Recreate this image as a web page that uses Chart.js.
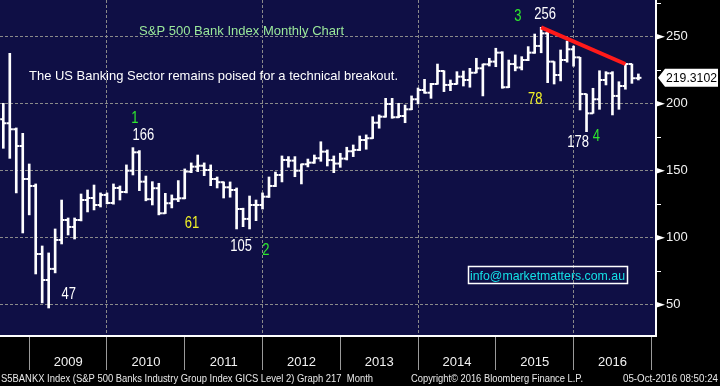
<!DOCTYPE html>
<html>
<head>
<meta charset="utf-8">
<script src="https://cdn.jsdelivr.net/npm/chart.js@4.4.1/dist/chart.umd.min.js"></script>
<style>
  html, body { margin: 0; padding: 0; background: #000; }
</style>
</head>
<body>
<canvas id="chart" width="720" height="386"></canvas>
<script>
// monthly bars, Aug 2008 .. Oct 2016 (index 0 .. 98)
const opens = [
  188.4, 185.4, 180.9, 168.4, 143.8, 138.6, 87.8, 68.4, 76.7, 98.3,
  113.2, 108.0, 113.2, 128.1, 129.6, 124.4, 131.9, 125.9, 137.1, 134.1,
  150.0, 163.7, 141.8, 128.7, 136.9, 118.2, 125.7, 128.7, 129.4, 149.3,
  153.0, 153.7, 150.5, 143.8, 141.4, 137.6, 135.6, 121.4, 114.0, 124.4,
  124.4, 130.6, 138.6, 146.8, 158.0, 157.5, 150.0, 154.8, 156.0, 159.3,
  164.2, 157.9, 155.3, 159.0, 164.5, 165.5, 172.9, 174.2, 185.8, 190.3,
  199.8, 189.9, 190.8, 195.8, 203.3, 210.2, 208.2, 214.7, 224.4, 214.0,
  214.7, 220.2, 217.7, 223.1, 226.4, 229.4, 231.4, 238.1, 212.3, 229.6,
  227.0, 232.6, 238.1, 243.1, 252.5, 231.4, 221.4, 232.6, 240.6, 234.6,
  207.2, 192.8, 203.3, 217.7, 222.7, 205.8, 213.2, 229.6, 219.0
];
const highs = [
  200.3, 237.6, 181.9, 177.9, 155.0, 140.1, 93.8, 88.6, 106.5, 128.1,
  114.7, 114.7, 132.6, 135.6, 139.3, 133.4, 133.4, 140.1, 138.6, 154.3,
  167.2, 165.0, 146.0, 141.8, 140.6, 133.1, 131.9, 142.6, 151.3, 155.8,
  161.7, 155.8, 154.3, 145.3, 141.6, 141.6, 137.1, 122.0, 131.1, 128.1,
  133.4, 145.3, 149.0, 161.0, 160.5, 160.5, 155.0, 158.7, 161.7, 171.6,
  165.5, 161.0, 163.0, 167.5, 169.2, 175.9, 176.7, 190.3, 191.6, 204.0,
  204.0, 200.3, 199.0, 205.8, 211.7, 218.2, 215.2, 229.6, 224.6, 217.7,
  223.9, 224.4, 226.4, 233.9, 229.6, 233.9, 241.4, 238.8, 232.6, 236.4,
  235.1, 242.6, 252.0, 257.0, 254.0, 231.4, 240.1, 246.8, 243.0, 234.6,
  207.2, 211.5, 224.6, 223.9, 223.9, 216.4, 229.6, 229.6, 222.2
];
const lows = [
  166.7, 159.2, 133.4, 103.5, 117.0, 72.9, 51.3, 47.5, 73.7, 95.3,
  102.0, 99.0, 112.5, 119.2, 120.7, 122.9, 125.2, 125.0, 128.1, 133.4,
  146.8, 135.1, 127.5, 124.4, 117.0, 118.0, 122.2, 126.9, 129.0, 148.5,
  149.3, 146.3, 138.8, 137.1, 129.6, 130.2, 106.5, 108.2, 106.5, 112.7,
  121.4, 130.0, 138.1, 141.6, 152.6, 145.5, 140.1, 152.8, 155.5, 157.0,
  153.5, 148.5, 152.5, 158.0, 160.5, 165.0, 166.0, 174.0, 181.7, 189.9,
  189.1, 189.5, 185.8, 195.5, 199.8, 207.8, 204.0, 214.5, 209.0, 209.7,
  214.5, 213.2, 212.3, 223.0, 205.8, 228.1, 227.6, 211.5, 212.0, 224.5,
  225.2, 232.1, 237.6, 238.0, 215.7, 214.7, 217.0, 231.0, 228.0, 195.3,
  179.1, 192.8, 195.8, 214.0, 191.6, 195.8, 210.8, 215.2, 217.7
];
const closes = [
  185.4, 180.9, 168.4, 143.8, 138.6, 87.8, 68.4, 76.7, 98.3, 113.2,
  108.0, 113.2, 128.1, 129.6, 124.4, 131.9, 125.9, 137.1, 134.1, 150.0,
  163.7, 141.8, 128.7, 136.9, 118.2, 125.7, 128.7, 129.4, 149.3, 153.0,
  153.7, 150.5, 143.8, 141.4, 137.6, 135.6, 121.4, 114.0, 124.4, 124.4,
  130.6, 138.6, 146.8, 158.0, 157.5, 150.0, 154.8, 156.0, 159.3, 164.2,
  157.9, 155.3, 159.0, 164.5, 165.5, 172.9, 174.2, 185.8, 190.3, 199.8,
  189.9, 190.8, 195.8, 203.3, 210.2, 208.2, 214.7, 224.4, 214.0, 214.7,
  220.2, 217.7, 223.1, 226.4, 229.4, 231.4, 238.1, 212.3, 229.6, 227.0,
  232.6, 238.1, 243.1, 252.5, 231.4, 221.4, 232.6, 240.6, 234.6, 207.2,
  192.8, 203.3, 217.7, 222.7, 205.8, 213.2, 229.6, 219.0, 219.3102
];

// year boundaries (bar index of each December) and the labels between them
const yearTicks = [4, 16, 28, 40, 52, 64, 76, 88, 100];
const years = ['2009', '2010', '2011', '2012', '2013', '2014', '2015', '2016', ''];
const priceTicks = [50, 75, 100, 125, 150, 175, 200, 225, 250, 275];

// resistance line from the 2015 high
const trendX = [83, 96];
const trendY = [257, 229.6];

// chart notes: text, bar index, price
const notes = [
  ['3', 79.4, 264.7, 'green'],
  ['256', 83.6, 266.2, 'white'],
  ['78', 82.1, 202.8, 'yellow'],
  ['178', 88.7, 170.7, 'white'],
  ['4', 91.5, 175.2, 'green'],
  ['1', 20.3, 188.6, 'green'],
  ['166', 21.6, 175.9, 'white'],
  ['61', 29.1, 110.6, 'yellow'],
  ['105', 36.7, 93.1, 'white'],
  ['2', 40.5, 90.5, 'green'],
  ['47', 10.1, 57.3, 'white'],
];

const ARIAL = "'Liberation Sans', Arial, sans-serif";
const NOTE_COLORS = { green: '#2ee62e', white: '#ffffff', yellow: '#f2f226' };
const PLOT_BG = '#0f0f45';
const GRID = '#8a8a8a';

// draw text squeezed/stretched to a given width (Bloomberg fonts are narrow)
const fitText = (ctx, text, x, y, width) => {
  const w = ctx.measureText(text).width;
  ctx.save();
  ctx.translate(x, y);
  ctx.scale(width / w, 1);
  ctx.fillText(text, 0, 0);
  ctx.restore();
};

// tall narrow digits for the notes on the chart
const tallText = (ctx, text, x, y) => {
  ctx.save();
  ctx.translate(x, y);
  ctx.scale(1, 1.2);
  ctx.fillText(text, 0, 0);
  ctx.restore();
};

const decor = {
  id: 'decor',
  beforeDraw(chart) {
    const { ctx, chartArea: a } = chart;
    ctx.save();
    ctx.fillStyle = '#000';
    ctx.fillRect(0, 0, chart.width, chart.height);
    ctx.fillStyle = PLOT_BG;
    ctx.fillRect(a.left, a.top, a.right - a.left, a.bottom - a.top);
    ctx.restore();
  },
  afterDraw(chart) {
    const { ctx, chartArea: a, scales: { x, y } } = chart;
    ctx.save();

    // flags on the labelled price ticks
    ctx.fillStyle = '#fff';
    priceTicks.filter((v) => v % 50 === 0).forEach((v) => {
      const py = y.getPixelForValue(v);
      ctx.beginPath();
      ctx.moveTo(a.right, py - 3);
      ctx.lineTo(a.right + 9, py);
      ctx.lineTo(a.right, py + 3);
      ctx.closePath();
      ctx.fill();
    });

    // last price box
    const last = closes[closes.length - 1];
    const py = y.getPixelForValue(last);
    ctx.beginPath();
    ctx.moveTo(a.right + 2, py);
    ctx.lineTo(a.right + 9, py - 9);
    ctx.lineTo(718, py - 9);
    ctx.lineTo(718, py + 9);
    ctx.lineTo(a.right + 9, py + 9);
    ctx.closePath();
    ctx.fill();
    ctx.fillStyle = '#000';
    ctx.font = '13px ' + ARIAL;
    ctx.textBaseline = 'middle';
    ctx.textAlign = 'left';
    fitText(ctx, last.toFixed(4), a.right + 10, py + 1, 51);

    // notes on the bars
    ctx.textAlign = 'center';
    notes.forEach(([text, i, v, c]) => {
      ctx.fillStyle = NOTE_COLORS[c];
      tallText(ctx, text, x.getPixelForValue(i), y.getPixelForValue(v));
    });

    // headline texts
    ctx.textAlign = 'left';
    ctx.textBaseline = 'alphabetic';
    ctx.font = '13px ' + ARIAL;
    ctx.fillStyle = '#9be89b';
    fitText(ctx, 'S&P 500 Bank Index Monthly Chart', 139, 35, 205);
    ctx.fillStyle = '#ffffff';
    fitText(ctx, 'The US Banking Sector remains poised for a technical breakout.', 29, 80, 369);

    // contact box
    ctx.strokeStyle = '#fff';
    ctx.lineWidth = 1.5;
    ctx.strokeRect(468.5, 266.5, 159, 17);
    ctx.font = '13px ' + ARIAL;
    ctx.fillStyle = '#14e0e6';
    fitText(ctx, 'info@marketmatters.com.au', 470, 280, 155);

    // footer
    ctx.font = '10px ' + ARIAL;
    ctx.fillStyle = '#e8e8e8';
    fitText(ctx, 'S5BANKX Index (S&P 500 Banks Industry Group Index GICS Level 2) Graph 217  Month', 1, 382, 372);
    fitText(ctx, 'Copyright\u00a9 2016 Bloomberg Finance L.P.', 411, 382, 172);
    fitText(ctx, '05-Oct-2016 08:50:24', 623, 382, 95);
    ctx.restore();
  }
};

new Chart(document.getElementById('chart'), {
  type: 'bar',
  data: {
    datasets: [
      {
        type: 'line',
        data: trendX.map((v, k) => ({ x: v, y: trendY[k] })),
        borderColor: '#ff1a1a',
        borderWidth: 4,
        pointRadius: 0,
        order: 0,
      },
      {
        type: 'bar',
        data: highs.map((h, i) => ({ x: i, y: [lows[i], h] })),
        backgroundColor: '#ffffff',
        borderWidth: 0,
        barThickness: 2,
        order: 3,
      },
      {
        type: 'scatter',
        data: opens.map((v, i) => ({ x: i - 0.23, y: v })),
        pointStyle: 'line',
        pointRadius: 1.6,
        pointBorderWidth: 2,
        pointBorderColor: '#ffffff',
        order: 2,
      },
      {
        type: 'scatter',
        data: closes.map((v, i) => ({ x: i + 0.23, y: v })),
        pointStyle: 'line',
        pointRadius: 1.6,
        pointBorderWidth: 2,
        pointBorderColor: '#ffffff',
        order: 1,
      },
    ],
  },
  options: {
    responsive: false,
    animation: false,
    events: [],
    layout: { padding: 0, autoPadding: false },
    plugins: { legend: { display: false }, tooltip: { enabled: false } },
    scales: {
      x: {
        type: 'linear',
        min: -0.51,
        max: 100.72,
        offset: false,
        afterBuildTicks: (scale) => {
          scale.ticks = yearTicks.map((v) => ({ value: v }));
        },
        afterFit: (scale) => {
          scale.height = 50;
          scale.paddingLeft = 0;
          scale.paddingRight = 0;
        },
        grid: {
          offset: false,
          color: (ctx) => (ctx.index % 2 === 1 ? GRID : 'transparent'),
          tickColor: '#9a9a9a',
          tickLength: 34,
          lineWidth: 1,
        },
        border: { color: '#ffffff', width: 2, dash: [3, 2] },
        ticks: {
          autoSkip: false,
          maxRotation: 0,
          labelOffset: 39,
          padding: -15,
          color: '#f2f2f2',
          font: { family: ARIAL, size: 13 },
          callback: (v, idx) => years[idx],
        },
      },
      y: {
        position: 'right',
        min: 26.6,
        max: 277.4,
        afterBuildTicks: (scale) => {
          scale.ticks = priceTicks.map((v) => ({ value: v }));
        },
        afterFit: (scale) => {
          scale.width = 64;
          scale.paddingTop = 0;
          scale.paddingBottom = 0;
        },
        grid: {
          color: (ctx) => (ctx.tick && ctx.tick.value % 50 === 0 ? GRID : 'transparent'),
          tickColor: '#ffffff',
          tickLength: 5,
          lineWidth: 1,
        },
        border: { color: '#ffffff', width: 2, dash: [3, 2] },
        ticks: {
          padding: 5,
          crossAlign: 'near',
          color: '#f2f2f2',
          font: { family: ARIAL, size: 13 },
          callback: (v) => (v % 50 === 0 ? String(v) : ''),
        },
      },
    },
  },
  plugins: [decor],
});
</script>
</body>
</html>
